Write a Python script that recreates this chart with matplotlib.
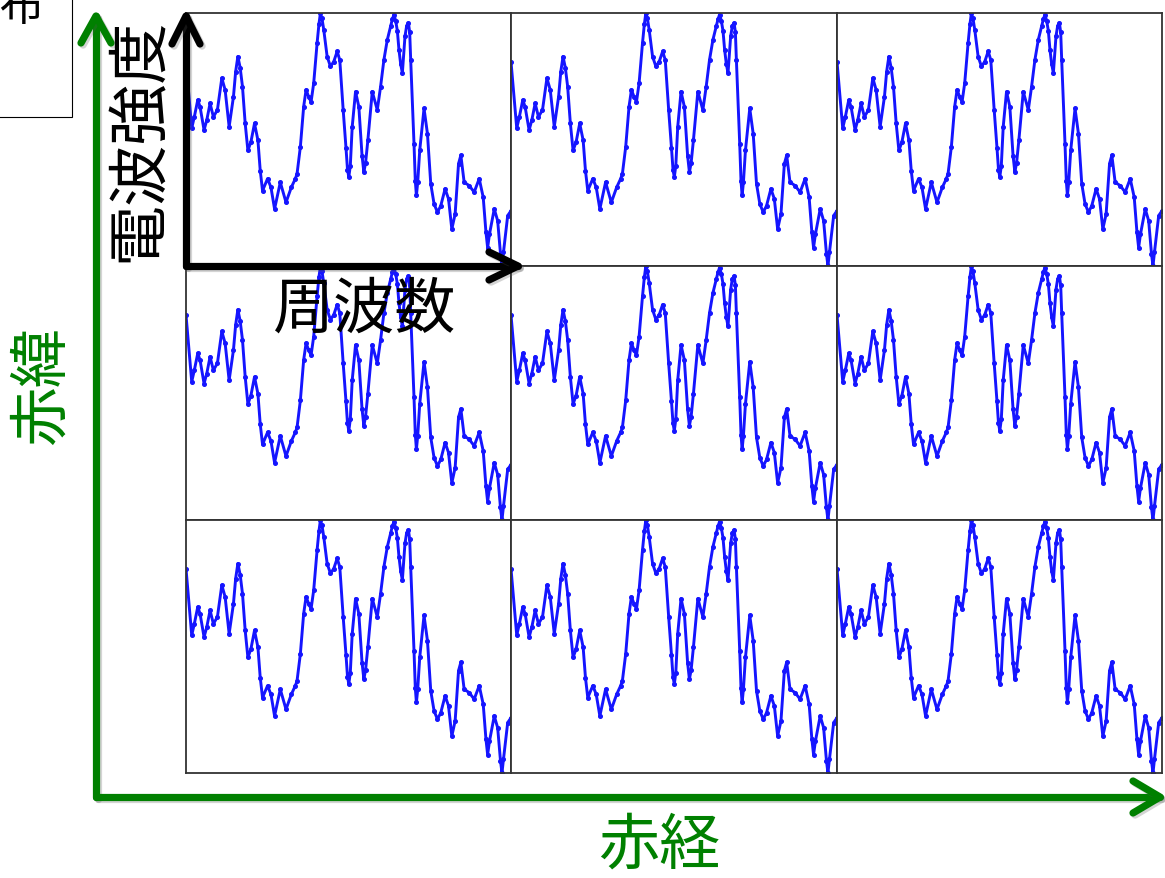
import matplotlib
matplotlib.use("Agg")
import matplotlib.pyplot as plt
import matplotlib.patheffects as pe
from matplotlib.patches import Rectangle

plt.rcParams['font.family'] = ['Noto Sans CJK JP', 'DejaVu Sans']

# Spectrum: frequency channel vs. radio intensity (arbitrary units)
channel = [0, 5.7, 8.3, 11.7, 14, 18, 20.7, 24, 27.3, 31.3, 35.7, 39, 43, 47.3,
           49.5, 51.7, 54, 56.3, 59, 61.7, 64.7, 68.3, 71.7, 74, 76.3, 81.3,
           84.7, 88.3, 94, 99.7, 105, 109, 110.7, 114, 117.3, 119.7, 122.3,
           124.7, 127.3, 130.7, 132.5, 134, 135.5, 137.3, 140.7, 144, 147.3,
           150.7, 153.3, 156.7, 159.5, 161, 162.3, 163.8, 165.7, 169, 172.3,
           175.5, 177.3, 179, 181.3, 185.7, 190.7, 194, 197.3, 200.7, 204,
           205.7, 207.3, 209, 210.7, 212.3, 214, 215.7, 218.3, 220, 221.7, 223,
           224, 227.3, 228.6, 229.7, 231, 233, 237.3, 240.7, 244, 247.3, 250.7,
           254, 258.3, 261.7, 265, 268.3, 271.7, 274, 277.3, 282.3, 287.3,
           292.3, 296.3, 299, 300.7, 302.5, 307.3, 310.7, 313.5, 315, 316.5,
           320.7, 324]
intensity = [8.09, 5.47, 5.92, 6.58, 6.32, 5.40, 5.79, 6.45, 5.92, 6.19, 7.44,
             6.98, 5.53, 6.71, 7.70, 8.29, 7.85, 7.11, 5.66, 4.60, 4.93, 5.66,
             5.00, 3.81, 3.02, 3.49, 3.15, 2.30, 3.35, 2.56, 3.15, 3.49, 3.68,
             4.74, 6.32, 6.98, 6.71, 6.51, 7.24, 8.82, 9.55, 10.0, 9.80, 9.35,
             8.29, 7.90, 8.09, 8.49, 8.16, 6.19, 4.70, 3.85, 3.55, 4.00, 5.53,
             6.91, 6.32, 4.40, 3.75, 4.10, 5.00, 6.91, 6.19, 7.11, 8.16, 8.95,
             9.48, 9.75, 9.94, 9.70, 9.30, 8.56, 8.00, 7.64, 9.08, 9.50, 9.61,
             9.25, 8.16, 4.87, 3.40, 2.83, 3.35, 4.60, 6.25, 5.26, 3.29, 2.50,
             2.17, 2.43, 3.09, 2.70, 1.51, 2.10, 4.08, 4.41, 3.35, 3.22, 2.96,
             3.49, 2.76, 1.40, 0.78, 1.30, 2.30, 1.84, 0.55, 0.06, 0.60, 2.04,
             2.23]

W, H = 1165, 879
fig = plt.figure(figsize=(W / 100, H / 100), dpi=100)

# 3 x 3 grid of spectra (pixel boundaries of the map cells)
col_edges = [186, 511, 837, 1162]
row_edges = [14, 267, 521, 774]
for r in range(3):
    for c in range(3):
        x0, x1 = col_edges[c], col_edges[c + 1]
        y0, y1 = row_edges[r], row_edges[r + 1]
        ax = fig.add_axes([x0 / W, 1 - y1 / H, (x1 - x0) / W, (y1 - y0) / H])
        ax.plot(channel, intensity, color='#1515ff', lw=2.1,
                solid_joinstyle='round', solid_capstyle='round',
                marker='o', ms=2.6, mec='#1515ff', mfc='#1515ff')
        ax.set_xlim(channel[0], channel[-1])
        ax.set_ylim(min(intensity), max(intensity))
        ax.set_xticks([])
        ax.set_yticks([])
        for s in ax.spines.values():
            s.set_color('#333333')
            s.set_linewidth(1.3)

# Overlay in pixel coordinates for arrows and labels
ov = fig.add_axes([0, 0, 1, 1], zorder=10)
ov.set_xlim(0, W)
ov.set_ylim(H, 0)
ov.axis('off')
ov.patch.set_alpha(0)

shadow = [pe.SimpleLineShadow(offset=(1.5, -1.5), alpha=0.25, shadow_color='#555555'),
          pe.Normal()]


def arrow(x0, y0, x1, y1, color, head_len, head_half):
    dx, dy = x1 - x0, y1 - y0
    n = (dx ** 2 + dy ** 2) ** 0.5
    ux, uy = dx / n, dy / n
    px, py = -uy, ux
    kw = dict(color=color, lw=5.2, solid_capstyle='round',
              solid_joinstyle='round', path_effects=shadow)
    ov.plot([x0, x1], [y0, y1], **kw)
    bx, by = x1 - ux * head_len, y1 - uy * head_len
    ov.plot([bx + px * head_half, x1, bx - px * head_half],
            [by + py * head_half, y1, by - py * head_half], **kw)


green = '#008000'
# Right ascension / declination axes
arrow(96, 798, 96, 17, green, 27, 15)
arrow(96, 798, 1160, 798, green, 27, 16)
# Frequency / intensity axes of one spectrum
arrow(186, 267, 186, 17, 'black', 28, 14)
arrow(186, 267, 518, 267, 'black', 29, 14)

ov.text(140, 140, '電波強度', rotation=90, ha='center', va='center',
        fontsize=44, color='black')
ov.text(365, 310, '周波数', ha='center', va='center', fontsize=44, color='black')
ov.text(42, 385, '赤緯', rotation=90, ha='center', va='center',
        fontsize=43, color=green)
ov.text(659, 846, '赤経', ha='center', va='center', fontsize=44, color=green)

# Corner caption box
ov.add_patch(Rectangle((-20, -20), 92, 138, fill=False, ec='black', lw=0.8))
ov.text(44, 30, '分布', ha='right', va='bottom', fontsize=32, color='black')

fig.savefig('out.png', dpi=100)
